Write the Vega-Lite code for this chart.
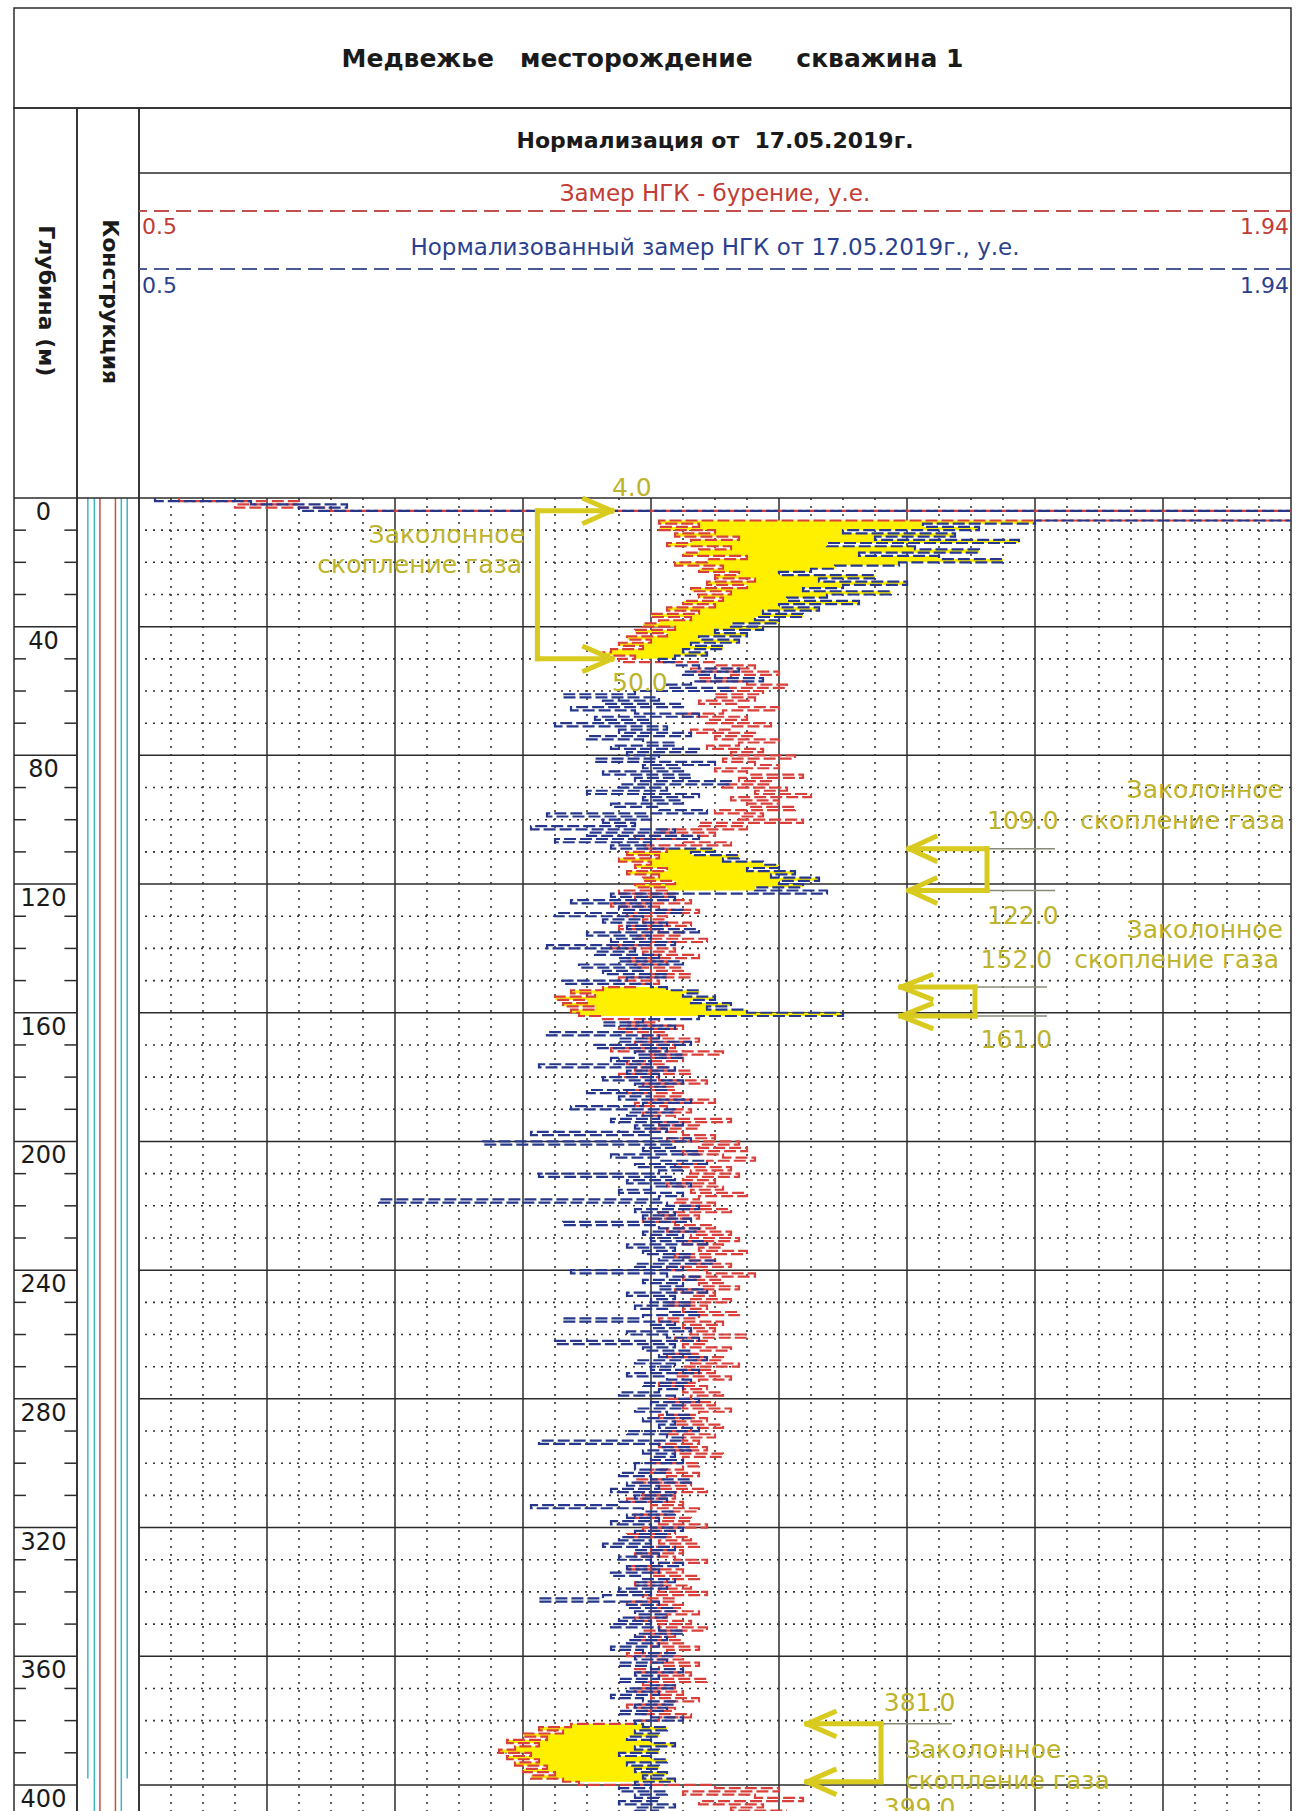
{
"$schema":"https://vega.github.io/schema/vega-lite/v6.json",
"padding":{"left":12,"top":7,"right":0,"bottom":0},
"background":"white",
"spacing":0,
"bounds":"flush",
"config":{"view":{"stroke":"#2b2b2b","strokeWidth":1.5},"font":"DejaVu Sans","text":{"font":"DejaVu Sans"}},
"datasets":{
"hmajor":[{"d":0},{"d":40},{"d":80},{"d":120},{"d":160},{"d":200},{"d":240},{"d":280},{"d":320},{"d":360},{"d":400}],
"hminor":[{"d":10},{"d":20},{"d":30},{"d":50},{"d":60},{"d":70},{"d":90},{"d":100},{"d":110},{"d":130},{"d":140},{"d":150},{"d":170},{"d":180},{"d":190},{"d":210},{"d":220},{"d":230},{"d":250},{"d":260},{"d":270},{"d":290},{"d":300},{"d":310},{"d":330},{"d":340},{"d":350},{"d":370},{"d":380},{"d":390}],
"dticks":[{"d":10,"a":0,"z":0.19},{"d":20,"a":0,"z":0.19},{"d":30,"a":0,"z":0.19},{"d":50,"a":0,"z":0.19},{"d":60,"a":0,"z":0.19},{"d":70,"a":0,"z":0.19},{"d":90,"a":0,"z":0.19},{"d":100,"a":0,"z":0.19},{"d":110,"a":0,"z":0.19},{"d":130,"a":0,"z":0.19},{"d":140,"a":0,"z":0.19},{"d":150,"a":0,"z":0.19},{"d":170,"a":0,"z":0.19},{"d":180,"a":0,"z":0.19},{"d":190,"a":0,"z":0.19},{"d":210,"a":0,"z":0.19},{"d":220,"a":0,"z":0.19},{"d":230,"a":0,"z":0.19},{"d":250,"a":0,"z":0.19},{"d":260,"a":0,"z":0.19},{"d":270,"a":0,"z":0.19},{"d":290,"a":0,"z":0.19},{"d":300,"a":0,"z":0.19},{"d":310,"a":0,"z":0.19},{"d":330,"a":0,"z":0.19},{"d":340,"a":0,"z":0.19},{"d":350,"a":0,"z":0.19},{"d":370,"a":0,"z":0.19},{"d":380,"a":0,"z":0.19},{"d":390,"a":0,"z":0.19},
{"d":10,"a":0.8,"z":1},{"d":20,"a":0.8,"z":1},{"d":30,"a":0.8,"z":1},{"d":50,"a":0.8,"z":1},{"d":60,"a":0.8,"z":1},{"d":70,"a":0.8,"z":1},{"d":90,"a":0.8,"z":1},{"d":100,"a":0.8,"z":1},{"d":110,"a":0.8,"z":1},{"d":130,"a":0.8,"z":1},{"d":140,"a":0.8,"z":1},{"d":150,"a":0.8,"z":1},{"d":170,"a":0.8,"z":1},{"d":180,"a":0.8,"z":1},{"d":190,"a":0.8,"z":1},{"d":210,"a":0.8,"z":1},{"d":220,"a":0.8,"z":1},{"d":230,"a":0.8,"z":1},{"d":250,"a":0.8,"z":1},{"d":260,"a":0.8,"z":1},{"d":270,"a":0.8,"z":1},{"d":290,"a":0.8,"z":1},{"d":300,"a":0.8,"z":1},{"d":310,"a":0.8,"z":1},{"d":330,"a":0.8,"z":1},{"d":340,"a":0.8,"z":1},{"d":350,"a":0.8,"z":1},{"d":370,"a":0.8,"z":1},{"d":380,"a":0.8,"z":1},{"d":390,"a":0.8,"z":1}],
"vmajor":[{"v":0.66,"s":0,"e":408.4},{"v":0.82,"s":0,"e":408.4},{"v":0.98,"s":0,"e":408.4},{"v":1.14,"s":0,"e":408.4},{"v":1.3,"s":0,"e":408.4},{"v":1.46,"s":0,"e":408.4},{"v":1.62,"s":0,"e":408.4},{"v":1.78,"s":0,"e":408.4}],
"vminor":[{"v":0.54,"s":0,"e":408.4},{"v":0.58,"s":0,"e":408.4},{"v":0.62,"s":0,"e":408.4},{"v":0.7,"s":0,"e":408.4},{"v":0.74,"s":0,"e":408.4},{"v":0.78,"s":0,"e":408.4},{"v":0.86,"s":0,"e":408.4},{"v":0.9,"s":0,"e":408.4},{"v":0.94,"s":0,"e":408.4},{"v":1.02,"s":0,"e":408.4},{"v":1.06,"s":0,"e":408.4},{"v":1.1,"s":0,"e":408.4},{"v":1.18,"s":0,"e":408.4},{"v":1.22,"s":0,"e":408.4},{"v":1.26,"s":0,"e":408.4},{"v":1.34,"s":0,"e":408.4},{"v":1.38,"s":0,"e":408.4},{"v":1.42,"s":0,"e":408.4},{"v":1.5,"s":0,"e":408.4},{"v":1.54,"s":0,"e":408.4},{"v":1.58,"s":0,"e":408.4},{"v":1.66,"s":0,"e":408.4},{"v":1.7,"s":0,"e":408.4},{"v":1.74,"s":0,"e":408.4},{"v":1.82,"s":0,"e":408.4},{"v":1.86,"s":0,"e":408.4},{"v":1.9,"s":0,"e":408.4}],
"cons":[{"x":0.175,"s":0,"e":398,"c":"cyan"},{"x":0.28,"s":0,"e":408.4,"c":"cyan"},{"x":0.37,"s":0,"e":408.4,"c":"red"},{"x":0.62,"s":0,"e":408.4,"c":"red"},{"x":0.715,"s":0,"e":408.4,"c":"cyan"},{"x":0.81,"s":0,"e":398,"c":"cyan"}],
"arr":[
{"v1":0.998,"d1":4,"v2":0.998,"d2":50},{"v1":0.998,"d1":4,"v2":1.091,"d2":4},{"v1":0.998,"d1":50,"v2":1.091,"d2":50},
{"v1":1.057,"d1":0.3,"v2":1.091,"d2":4},{"v1":1.057,"d1":7.7,"v2":1.091,"d2":4},{"v1":1.057,"d1":46.3,"v2":1.091,"d2":50},{"v1":1.057,"d1":53.7,"v2":1.091,"d2":50},
{"v1":1.56,"d1":109,"v2":1.56,"d2":122},{"v1":1.4625,"d1":109,"v2":1.56,"d2":109},{"v1":1.4625,"d1":122,"v2":1.56,"d2":122},
{"v1":1.4625,"d1":109,"v2":1.495,"d2":105.3},{"v1":1.4625,"d1":109,"v2":1.495,"d2":112.7},{"v1":1.4625,"d1":122,"v2":1.495,"d2":118.3},{"v1":1.4625,"d1":122,"v2":1.495,"d2":125.7},
{"v1":1.545,"d1":152,"v2":1.545,"d2":161},{"v1":1.4525,"d1":152,"v2":1.545,"d2":152},{"v1":1.4525,"d1":161,"v2":1.545,"d2":161},
{"v1":1.4525,"d1":152,"v2":1.49,"d2":148.3},{"v1":1.4525,"d1":152,"v2":1.49,"d2":155.7},{"v1":1.4525,"d1":161,"v2":1.49,"d2":157.3},{"v1":1.4525,"d1":161,"v2":1.49,"d2":164.7},
{"v1":1.4275,"d1":381,"v2":1.4275,"d2":399},{"v1":1.335,"d1":381,"v2":1.4275,"d2":381},{"v1":1.335,"d1":399,"v2":1.4275,"d2":399},
{"v1":1.335,"d1":381,"v2":1.369,"d2":377.3},{"v1":1.335,"d1":381,"v2":1.369,"d2":384.7},{"v1":1.335,"d1":399,"v2":1.369,"d2":395.3},{"v1":1.335,"d1":399,"v2":1.369,"d2":402.7}],
"grey":[{"v1":1.56,"d1":109,"v2":1.645,"d2":109},{"v1":1.56,"d1":122,"v2":1.645,"d2":122},{"v1":1.545,"d1":152,"v2":1.635,"d2":152},{"v1":1.545,"d1":161,"v2":1.635,"d2":161},{"v1":1.4275,"d1":381,"v2":1.516,"d2":381}],
"annR":[{"t":"Заколонное","v":0.9825,"d":14},{"t":"скопление газа","v":0.979,"d":23.3},{"t":"Заколонное","v":1.93,"d":93.2},{"t":"скопление газа","v":1.9325,"d":102.9},{"t":"Заколонное","v":1.93,"d":136.8},{"t":"скопление газа","v":1.925,"d":146}],
"annL":[{"t":"Заколонное","v":1.4575,"d":391.6},{"t":"скопление газа","v":1.4575,"d":401.3},{"t":"109.0","v":1.56,"d":102.9},{"t":"122.0","v":1.56,"d":132.4},{"t":"152.0","v":1.552,"d":146},{"t":"161.0","v":1.552,"d":171},{"t":"381.0","v":1.431,"d":377},{"t":"399.0","v":1.431,"d":409.6}],
"annC":[{"t":"4.0","v":1.116,"d":-0.6},{"t":"50.0","v":1.126,"d":60}],
"log":[
{"d":0,"r":0.55,"b":0.52},{"d":1,"r":0.7,"b":0.64},{"d":2,"r":0.62,"b":0.76},{"d":3,"r":0.74,"b":0.7},{"d":4,"r":2.4,"b":2.4},{"d":5,"r":2.4,"b":2.4},{"d":6,"r":2.4,"b":2.4},{"d":7,"r":1.15,"b":1.62},{"d":8,"r":1.2,"b":1.48},{"d":9,"r":1.15,"b":1.55},
{"d":10,"r":1.22,"b":1.38},{"d":11,"r":1.17,"b":1.52},{"d":12,"r":1.25,"b":1.42},{"d":13,"r":1.19,"b":1.6},{"d":14,"r":1.16,"b":1.36},{"d":15,"r":1.24,"b":1.47},{"d":16,"r":1.2,"b":1.55},{"d":17,"r":1.18,"b":1.4},{"d":18,"r":1.26,"b":1.5},{"d":19,"r":1.21,"b":1.58},
{"d":20,"r":1.17,"b":1.45},{"d":21,"r":1.23,"b":1.37},{"d":22,"r":1.2,"b":1.34},{"d":23,"r":1.25,"b":1.3},{"d":24,"r":1.22,"b":1.42},{"d":25,"r":1.27,"b":1.35},{"d":26,"r":1.21,"b":1.46},{"d":27,"r":1.26,"b":1.38},{"d":28,"r":1.19,"b":1.33},{"d":29,"r":1.24,"b":1.44},
{"d":30,"r":1.2,"b":1.36},{"d":31,"r":1.23,"b":1.31},{"d":32,"r":1.18,"b":1.4},{"d":33,"r":1.22,"b":1.3},{"d":34,"r":1.16,"b":1.35},{"d":35,"r":1.2,"b":1.28},{"d":36,"r":1.14,"b":1.33},{"d":37,"r":1.19,"b":1.27},{"d":38,"r":1.15,"b":1.3},{"d":39,"r":1.13,"b":1.24},
{"d":40,"r":1.17,"b":1.28},{"d":41,"r":1.12,"b":1.22},{"d":42,"r":1.16,"b":1.26},{"d":43,"r":1.11,"b":1.2},{"d":44,"r":1.14,"b":1.25},{"d":45,"r":1.1,"b":1.19},{"d":46,"r":1.13,"b":1.23},{"d":47,"r":1.09,"b":1.18},{"d":48,"r":1.08,"b":1.21},{"d":49,"r":1.12,"b":1.17},
{"d":50,"r":1.1,"b":1.15},{"d":51,"r":1.22,"b":1.17},{"d":52,"r":1.27,"b":1.2},{"d":53,"r":1.19,"b":1.25},{"d":54,"r":1.3,"b":1.18},{"d":55,"r":1.24,"b":1.22},{"d":56,"r":1.2,"b":1.28},{"d":57,"r":1.26,"b":1.19},{"d":58,"r":1.31,"b":1.16},{"d":59,"r":1.23,"b":1.24},
{"d":60,"r":1.28,"b":1.12},{"d":61,"r":1.22,"b":1.03},{"d":62,"r":1.27,"b":1.15},{"d":63,"r":1.2,"b":1.08},{"d":64,"r":1.25,"b":1.18},{"d":65,"r":1.3,"b":1.04},{"d":66,"r":1.23,"b":1.12},{"d":67,"r":1.18,"b":1.2},{"d":68,"r":1.26,"b":1.07},{"d":69,"r":1.21,"b":1.14},
{"d":70,"r":1.29,"b":1.02},{"d":71,"r":1.24,"b":1.16},{"d":72,"r":1.19,"b":1.1},{"d":73,"r":1.27,"b":1.19},{"d":74,"r":1.22,"b":1.06},{"d":75,"r":1.3,"b":1.13},{"d":76,"r":1.25,"b":1.17},{"d":77,"r":1.21,"b":1.09},{"d":78,"r":1.28,"b":1.2},{"d":79,"r":1.24,"b":1.11},
{"d":80,"r":1.32,"b":1.15},{"d":81,"r":1.23,"b":1.07},{"d":82,"r":1.27,"b":1.22},{"d":83,"r":1.3,"b":1.13},{"d":84,"r":1.22,"b":1.18},{"d":85,"r":1.26,"b":1.08},{"d":86,"r":1.33,"b":1.19},{"d":87,"r":1.25,"b":1.12},{"d":88,"r":1.29,"b":1.24},{"d":89,"r":1.23,"b":1.1},
{"d":90,"r":1.31,"b":1.16},{"d":91,"r":1.27,"b":1.06},{"d":92,"r":1.34,"b":1.2},{"d":93,"r":1.24,"b":1.13},{"d":94,"r":1.3,"b":1.18},{"d":95,"r":1.26,"b":1.09},{"d":96,"r":1.32,"b":1.15},{"d":97,"r":1.22,"b":1.21},{"d":98,"r":1.28,"b":1.01},{"d":99,"r":1.25,"b":1.14},
{"d":100,"r":1.33,"b":1.08},{"d":101,"r":1.2,"b":1.12},{"d":102,"r":1.26,"b":0.99},{"d":103,"r":1.15,"b":1.17},{"d":104,"r":1.22,"b":1.06},{"d":105,"r":1.12,"b":1.2},{"d":106,"r":1.18,"b":1.02},{"d":107,"r":1.24,"b":1.14},{"d":108,"r":1.13,"b":1.09},{"d":109,"r":1.16,"b":1.22},
{"d":110,"r":1.11,"b":1.19},{"d":111,"r":1.15,"b":1.25},{"d":112,"r":1.1,"b":1.23},{"d":113,"r":1.14,"b":1.28},{"d":114,"r":1.12,"b":1.3},{"d":115,"r":1.16,"b":1.26},{"d":116,"r":1.11,"b":1.32},{"d":117,"r":1.15,"b":1.29},{"d":118,"r":1.13,"b":1.35},{"d":119,"r":1.17,"b":1.3},
{"d":120,"r":1.12,"b":1.33},{"d":121,"r":1.16,"b":1.27},{"d":122,"r":1.1,"b":1.36},{"d":123,"r":1.17,"b":1.09},{"d":124,"r":1.12,"b":1.17},{"d":125,"r":1.19,"b":1.04},{"d":126,"r":1.09,"b":1.14},{"d":127,"r":1.15,"b":1.1},{"d":128,"r":1.2,"b":1.18},{"d":129,"r":1.11,"b":1.02},
{"d":130,"r":1.16,"b":1.13},{"d":131,"r":1.13,"b":1.08},{"d":132,"r":1.19,"b":1.16},{"d":133,"r":1.1,"b":1.11},{"d":134,"r":1.15,"b":1.2},{"d":135,"r":1.18,"b":1.06},{"d":136,"r":1.12,"b":1.14},{"d":137,"r":1.21,"b":1.09},{"d":138,"r":1.14,"b":1.17},{"d":139,"r":1.09,"b":1.01},
{"d":140,"r":1.17,"b":1.12},{"d":141,"r":1.13,"b":1.07},{"d":142,"r":1.2,"b":1.15},{"d":143,"r":1.11,"b":1.1},{"d":144,"r":1.16,"b":1.18},{"d":145,"r":1.12,"b":1.05},{"d":146,"r":1.18,"b":1.13},{"d":147,"r":1.14,"b":1.08},{"d":148,"r":1.19,"b":1.16},{"d":149,"r":1.1,"b":1.11},
{"d":150,"r":1.15,"b":1.03},{"d":151,"r":1.12,"b":1.14},{"d":152,"r":1.08,"b":1.16},{"d":153,"r":1.04,"b":1.2},{"d":154,"r":1.07,"b":1.18},{"d":155,"r":1.02,"b":1.22},{"d":156,"r":1.06,"b":1.19},{"d":157,"r":1.03,"b":1.24},{"d":158,"r":1.07,"b":1.21},{"d":159,"r":1.04,"b":1.26},
{"d":160,"r":1.05,"b":1.38},{"d":161,"r":1.08,"b":1.2},{"d":162,"r":1.15,"b":1.13},{"d":163,"r":1.11,"b":1.08},{"d":164,"r":1.18,"b":1.17},{"d":165,"r":1.1,"b":1.11},{"d":166,"r":1.16,"b":1.01},{"d":167,"r":1.13,"b":1.15},{"d":168,"r":1.2,"b":1.1},{"d":169,"r":1.12,"b":1.19},
{"d":170,"r":1.17,"b":1.07},{"d":171,"r":1.09,"b":1.16},{"d":172,"r":1.23,"b":1.12},{"d":173,"r":1.14,"b":1.18},{"d":174,"r":1.18,"b":1.09},{"d":175,"r":1.11,"b":1.14},{"d":176,"r":1.16,"b":1.0},{"d":177,"r":1.12,"b":1.17},{"d":178,"r":1.19,"b":1.11},{"d":179,"r":1.1,"b":1.15},
{"d":180,"r":1.15,"b":1.08},{"d":181,"r":1.21,"b":1.18},{"d":182,"r":1.13,"b":1.12},{"d":183,"r":1.17,"b":1.16},{"d":184,"r":1.11,"b":1.06},{"d":185,"r":1.18,"b":1.14},{"d":186,"r":1.14,"b":1.1},{"d":187,"r":1.22,"b":1.19},{"d":188,"r":1.12,"b":1.13},{"d":189,"r":1.16,"b":1.04},
{"d":190,"r":1.19,"b":1.17},{"d":191,"r":1.13,"b":1.11},{"d":192,"r":1.17,"b":1.15},{"d":193,"r":1.24,"b":1.09},{"d":194,"r":1.15,"b":1.18},{"d":195,"r":1.2,"b":1.12},{"d":196,"r":1.14,"b":1.16},{"d":197,"r":1.18,"b":0.99},{"d":198,"r":1.22,"b":1.14},{"d":199,"r":1.16,"b":1.19},
{"d":200,"r":1.25,"b":0.93},{"d":201,"r":1.2,"b":1.17},{"d":202,"r":1.26,"b":1.13},{"d":203,"r":1.18,"b":1.2},{"d":204,"r":1.23,"b":1.09},{"d":205,"r":1.27,"b":1.15},{"d":206,"r":1.21,"b":1.21},{"d":207,"r":1.17,"b":1.12},{"d":208,"r":1.24,"b":1.18},{"d":209,"r":1.19,"b":1.15},
{"d":210,"r":1.25,"b":1.0},{"d":211,"r":1.18,"b":1.17},{"d":212,"r":1.22,"b":1.11},{"d":213,"r":1.16,"b":1.19},{"d":214,"r":1.23,"b":1.14},{"d":215,"r":1.19,"b":1.1},{"d":216,"r":1.26,"b":1.18},{"d":217,"r":1.2,"b":1.15},{"d":218,"r":1.17,"b":0.8},{"d":219,"r":1.22,"b":1.16},
{"d":220,"r":1.18,"b":1.2},{"d":221,"r":1.24,"b":1.12},{"d":222,"r":1.15,"b":1.17},{"d":223,"r":1.2,"b":1.13},{"d":224,"r":1.13,"b":1.19},{"d":225,"r":1.17,"b":1.03},{"d":226,"r":1.22,"b":1.15},{"d":227,"r":1.16,"b":1.2},{"d":228,"r":1.24,"b":1.13},{"d":229,"r":1.19,"b":1.18},
{"d":230,"r":1.25,"b":1.14},{"d":231,"r":1.18,"b":1.21},{"d":232,"r":1.23,"b":1.11},{"d":233,"r":1.2,"b":1.17},{"d":234,"r":1.26,"b":1.13},{"d":235,"r":1.17,"b":1.19},{"d":236,"r":1.22,"b":1.15},{"d":237,"r":1.19,"b":1.22},{"d":238,"r":1.24,"b":1.12},{"d":239,"r":1.16,"b":1.18},
{"d":240,"r":1.21,"b":1.04},{"d":241,"r":1.27,"b":1.16},{"d":242,"r":1.18,"b":1.2},{"d":243,"r":1.23,"b":1.13},{"d":244,"r":1.2,"b":1.18},{"d":245,"r":1.25,"b":1.15},{"d":246,"r":1.17,"b":1.21},{"d":247,"r":1.22,"b":1.11},{"d":248,"r":1.19,"b":1.17},{"d":249,"r":1.24,"b":1.14},
{"d":250,"r":1.16,"b":1.19},{"d":251,"r":1.21,"b":1.12},{"d":252,"r":1.18,"b":1.16},{"d":253,"r":1.25,"b":1.2},{"d":254,"r":1.2,"b":1.13},{"d":255,"r":1.15,"b":1.03},{"d":256,"r":1.23,"b":1.17},{"d":257,"r":1.18,"b":1.14},{"d":258,"r":1.22,"b":1.19},{"d":259,"r":1.19,"b":1.11},
{"d":260,"r":1.26,"b":1.16},{"d":261,"r":1.17,"b":1.2},{"d":262,"r":1.21,"b":1.02},{"d":263,"r":1.18,"b":1.17},{"d":264,"r":1.24,"b":1.13},{"d":265,"r":1.2,"b":1.19},{"d":266,"r":1.16,"b":1.15},{"d":267,"r":1.23,"b":1.21},{"d":268,"r":1.19,"b":1.12},{"d":269,"r":1.25,"b":1.17},
{"d":270,"r":1.18,"b":1.14},{"d":271,"r":1.22,"b":1.2},{"d":272,"r":1.17,"b":1.11},{"d":273,"r":1.24,"b":1.16},{"d":274,"r":1.2,"b":1.19},{"d":275,"r":1.15,"b":1.13},{"d":276,"r":1.21,"b":1.18},{"d":277,"r":1.18,"b":1.15},{"d":278,"r":1.23,"b":1.1},{"d":279,"r":1.19,"b":1.17},
{"d":280,"r":1.16,"b":1.2},{"d":281,"r":1.22,"b":1.14},{"d":282,"r":1.18,"b":1.18},{"d":283,"r":1.24,"b":1.12},{"d":284,"r":1.2,"b":1.16},{"d":285,"r":1.15,"b":1.19},{"d":286,"r":1.21,"b":1.13},{"d":287,"r":1.17,"b":1.17},{"d":288,"r":1.23,"b":1.15},{"d":289,"r":1.19,"b":1.2},
{"d":290,"r":1.16,"b":1.11},{"d":291,"r":1.22,"b":1.16},{"d":292,"r":1.18,"b":1.18},{"d":293,"r":1.2,"b":1.0},{"d":294,"r":1.15,"b":1.15},{"d":295,"r":1.21,"b":1.19},{"d":296,"r":1.17,"b":1.13},{"d":297,"r":1.23,"b":1.17},{"d":298,"r":1.18,"b":1.14},{"d":299,"r":1.14,"b":1.18},
{"d":300,"r":1.2,"b":1.12},{"d":301,"r":1.18,"b":1.12},{"d":302,"r":1.14,"b":1.16},{"d":303,"r":1.2,"b":1.1},{"d":304,"r":1.16,"b":1.14},{"d":305,"r":1.12,"b":1.19},{"d":306,"r":1.19,"b":1.11},{"d":307,"r":1.15,"b":1.15},{"d":308,"r":1.21,"b":1.09},{"d":309,"r":1.13,"b":1.17},
{"d":310,"r":1.17,"b":1.12},{"d":311,"r":1.11,"b":1.16},{"d":312,"r":1.18,"b":1.1},{"d":313,"r":1.14,"b":0.99},{"d":314,"r":1.2,"b":1.13},{"d":315,"r":1.16,"b":1.17},{"d":316,"r":1.12,"b":1.11},{"d":317,"r":1.19,"b":1.15},{"d":318,"r":1.15,"b":1.09},{"d":319,"r":1.21,"b":1.14},
{"d":320,"r":1.13,"b":1.18},{"d":321,"r":1.17,"b":1.12},{"d":322,"r":1.11,"b":1.16},{"d":323,"r":1.19,"b":1.1},{"d":324,"r":1.15,"b":1.14},{"d":325,"r":1.2,"b":1.08},{"d":326,"r":1.14,"b":1.17},{"d":327,"r":1.18,"b":1.12},{"d":328,"r":1.12,"b":1.15},{"d":329,"r":1.17,"b":1.1},
{"d":330,"r":1.21,"b":1.14},{"d":331,"r":1.15,"b":1.18},{"d":332,"r":1.11,"b":1.11},{"d":333,"r":1.18,"b":1.15},{"d":334,"r":1.14,"b":1.09},{"d":335,"r":1.2,"b":1.13},{"d":336,"r":1.16,"b":1.17},{"d":337,"r":1.12,"b":1.12},{"d":338,"r":1.19,"b":1.16},{"d":339,"r":1.15,"b":1.1},
{"d":340,"r":1.21,"b":1.14},{"d":341,"r":1.13,"b":1.08},{"d":342,"r":1.17,"b":1.0},{"d":343,"r":1.11,"b":1.15},{"d":344,"r":1.18,"b":1.11},{"d":345,"r":1.14,"b":1.17},{"d":346,"r":1.2,"b":1.12},{"d":347,"r":1.16,"b":1.16},{"d":348,"r":1.12,"b":1.1},{"d":349,"r":1.19,"b":1.14},
{"d":350,"r":1.15,"b":1.09},{"d":351,"r":1.21,"b":1.15},{"d":352,"r":1.13,"b":1.18},{"d":353,"r":1.17,"b":1.12},{"d":354,"r":1.12,"b":1.16},{"d":355,"r":1.18,"b":1.11},{"d":356,"r":1.14,"b":1.15},{"d":357,"r":1.2,"b":1.09},{"d":358,"r":1.16,"b":1.13},{"d":359,"r":1.11,"b":1.17},
{"d":360,"r":1.18,"b":1.12},{"d":361,"r":1.14,"b":1.16},{"d":362,"r":1.2,"b":1.1},{"d":363,"r":1.15,"b":1.14},{"d":364,"r":1.12,"b":1.18},{"d":365,"r":1.19,"b":1.12},{"d":366,"r":1.15,"b":1.15},{"d":367,"r":1.21,"b":1.1},{"d":368,"r":1.13,"b":1.14},{"d":369,"r":1.17,"b":1.17},
{"d":370,"r":1.12,"b":1.11},{"d":371,"r":1.18,"b":1.15},{"d":372,"r":1.14,"b":1.09},{"d":373,"r":1.2,"b":1.13},{"d":374,"r":1.16,"b":1.17},{"d":375,"r":1.11,"b":1.12},{"d":376,"r":1.17,"b":1.16},{"d":377,"r":1.13,"b":1.1},{"d":378,"r":1.19,"b":1.14},{"d":379,"r":1.15,"b":1.18},
{"d":380,"r":1.12,"b":1.12},{"d":381,"r":1.04,"b":1.13},{"d":382,"r":1.0,"b":1.16},{"d":383,"r":1.03,"b":1.12},{"d":384,"r":0.98,"b":1.15},{"d":385,"r":1.01,"b":1.11},{"d":386,"r":0.96,"b":1.14},{"d":387,"r":1.0,"b":1.17},{"d":388,"r":0.97,"b":1.12},{"d":389,"r":0.95,"b":1.15},
{"d":390,"r":0.99,"b":1.1},{"d":391,"r":0.96,"b":1.14},{"d":392,"r":1.0,"b":1.16},{"d":393,"r":0.97,"b":1.11},{"d":394,"r":1.01,"b":1.15},{"d":395,"r":0.98,"b":1.12},{"d":396,"r":1.02,"b":1.16},{"d":397,"r":0.99,"b":1.13},{"d":398,"r":1.03,"b":1.17},{"d":399,"r":1.05,"b":1.12},
{"d":400,"r":1.22,"b":1.14},{"d":401,"r":1.3,"b":1.1},{"d":402,"r":1.18,"b":1.16},{"d":403,"r":1.27,"b":1.12},{"d":404,"r":1.33,"b":1.15},{"d":405,"r":1.2,"b":1.1},{"d":406,"r":1.28,"b":1.17},{"d":407,"r":1.24,"b":1.12},{"d":408,"r":1.31,"b":1.15}
]
},
"vconcat":[
{"width":1277,"height":100,
 "data":{"values":[{"t":"Медвежье\u00a0\u00a0\u00a0месторождение\u00a0\u00a0\u00a0\u00a0\u00a0скважина 1","x":0.5,"y":0.49}]},
 "mark":{"type":"text","fontSize":25,"fontWeight":"bold","font":"DejaVu Sans","color":"#1a1a1a","baseline":"middle","align":"center"},
 "encoding":{"text":{"field":"t","type":"nominal"},
  "x":{"field":"x","type":"quantitative","scale":{"domain":[0,1],"nice":false,"zero":false},"axis":null},
  "y":{"field":"y","type":"quantitative","scale":{"domain":[0,1],"nice":false,"zero":false},"axis":null}}},
{"hconcat":[
 {"width":63,"height":1704,
  "layer":[
   {"data":{"name":"hmajor"},"mark":{"type":"rule","color":"#2b2b2b","strokeWidth":1.5},
    "encoding":{"y":{"field":"d","type":"quantitative","scale":{"domain":[-121.2,408.4],"nice":false,"zero":false,"reverse":true},"axis":null}}},
   {"data":{"name":"dticks"},"mark":{"type":"rule","color":"#2b2b2b","strokeWidth":1.5},
    "encoding":{"y":{"field":"d","type":"quantitative","axis":null},
     "x":{"field":"a","type":"quantitative","scale":{"domain":[0,1],"nice":false,"zero":false},"axis":null},"x2":{"field":"z"}}},
   {"data":{"name":"hmajor"},"mark":{"type":"text","fontSize":24,"dy":15,"dx":-2,"baseline":"middle","align":"center","color":"#1a1a1a"},
    "encoding":{"y":{"field":"d","type":"quantitative","axis":null},"text":{"field":"d","type":"quantitative"}}},
   {"data":{"values":[{"t":"Глубина (м)","d":-61}]},"mark":{"type":"text","angle":90,"fontSize":22,"fontWeight":"bold","baseline":"middle","align":"center","color":"#1a1a1a","dx":-1},
    "encoding":{"y":{"field":"d","type":"quantitative","axis":null},"text":{"field":"t","type":"nominal"}}}
  ]},
 {"width":62,"height":1704,
  "layer":[
   {"data":{"name":"cons"},"mark":{"type":"rule","strokeWidth":1.5},
    "encoding":{"x":{"field":"x","type":"quantitative","scale":{"domain":[0,1],"nice":false,"zero":false},"axis":null},
     "y":{"field":"s","type":"quantitative","scale":{"domain":[-121.2,408.4],"nice":false,"zero":false,"reverse":true},"axis":null},
     "y2":{"field":"e"},
     "color":{"field":"c","type":"nominal","scale":{"domain":["cyan","red"],"range":["#3db5c5","#c8513d"]},"legend":null}}},
   {"data":{"values":[{"d":0}]},"mark":{"type":"rule","color":"#2b2b2b","strokeWidth":1.5},
    "encoding":{"y":{"field":"d","type":"quantitative","axis":null}}},
   {"data":{"values":[{"t":"Конструкция","d":-61}]},"mark":{"type":"text","angle":90,"fontSize":22,"fontWeight":"bold","baseline":"middle","align":"center","color":"#1a1a1a","dy":-2},
    "encoding":{"y":{"field":"d","type":"quantitative","axis":null},"text":{"field":"t","type":"nominal"}}}
  ]},
 {"width":1152,"height":1704,
  "layer":[
   {"data":{"name":"vminor"},"mark":{"type":"rule","color":"#333333","strokeWidth":1.6,"strokeDash":[2,6]},
    "encoding":{"x":{"field":"v","type":"quantitative","scale":{"domain":[0.5,1.94],"nice":false,"zero":false},"axis":null},
     "y":{"field":"s","type":"quantitative","scale":{"domain":[-121.2,408.4],"nice":false,"zero":false,"reverse":true},"axis":null},"y2":{"field":"e"}}},
   {"data":{"name":"vmajor"},"mark":{"type":"rule","color":"#2b2b2b","strokeWidth":1.5},
    "encoding":{"x":{"field":"v","type":"quantitative","axis":null},
     "y":{"field":"s","type":"quantitative","axis":null},"y2":{"field":"e"}}},
   {"data":{"name":"hminor"},"mark":{"type":"rule","color":"#333333","strokeWidth":1.6,"strokeDash":[2,6]},
    "encoding":{"y":{"field":"d","type":"quantitative","axis":null}}},
   {"data":{"name":"hmajor"},"mark":{"type":"rule","color":"#2b2b2b","strokeWidth":1.5},
    "encoding":{"y":{"field":"d","type":"quantitative","axis":null}}},
   {"data":{"values":[{"d":-101}]},"mark":{"type":"rule","color":"#2b2b2b","strokeWidth":1.5},
    "encoding":{"y":{"field":"d","type":"quantitative","axis":null}}},
   {"data":{"values":[{"d":-89.2}]},"mark":{"type":"rule","color":"#c0504d","strokeWidth":2,"strokeDash":[15,7]},
    "encoding":{"y":{"field":"d","type":"quantitative","axis":null}}},
   {"data":{"values":[{"d":-71.2}]},"mark":{"type":"rule","color":"#4a5a94","strokeWidth":2,"strokeDash":[15,7]},
    "encoding":{"y":{"field":"d","type":"quantitative","axis":null}}},
   {"data":{"name":"log"},"transform":[{"filter":{"field":"d","range":[7,50]}}],
    "mark":{"type":"area","orient":"horizontal","interpolate":"step-before","color":"#fff000","clip":true},
    "encoding":{"y":{"field":"d","type":"quantitative","axis":null},"x":{"field":"r","type":"quantitative","axis":null},"x2":{"field":"b"}}},
   {"data":{"name":"log"},"transform":[{"filter":{"field":"d","range":[109,122]}}],
    "mark":{"type":"area","orient":"horizontal","interpolate":"step-before","color":"#fff000","clip":true},
    "encoding":{"y":{"field":"d","type":"quantitative","axis":null},"x":{"field":"r","type":"quantitative","axis":null},"x2":{"field":"b"}}},
   {"data":{"name":"log"},"transform":[{"filter":{"field":"d","range":[152,161]}}],
    "mark":{"type":"area","orient":"horizontal","interpolate":"step-before","color":"#fff000","clip":true},
    "encoding":{"y":{"field":"d","type":"quantitative","axis":null},"x":{"field":"r","type":"quantitative","axis":null},"x2":{"field":"b"}}},
   {"data":{"name":"log"},"transform":[{"filter":{"field":"d","range":[381,399]}}],
    "mark":{"type":"area","orient":"horizontal","interpolate":"step-before","color":"#fff000","clip":true},
    "encoding":{"y":{"field":"d","type":"quantitative","axis":null},"x":{"field":"r","type":"quantitative","axis":null},"x2":{"field":"b"}}},
   {"data":{"name":"log"},"mark":{"type":"line","interpolate":"step-before","color":"#d8413b","strokeWidth":2.2,"strokeDash":[12,4],"clip":true},
    "encoding":{"y":{"field":"d","type":"quantitative","axis":null},"x":{"field":"r","type":"quantitative","axis":null},"order":{"field":"d","type":"quantitative"}}},
   {"data":{"name":"log"},"mark":{"type":"line","interpolate":"step-before","color":"#27388c","strokeWidth":2.2,"strokeDash":[12,4],"clip":true},
    "encoding":{"y":{"field":"d","type":"quantitative","axis":null},"x":{"field":"b","type":"quantitative","axis":null},"order":{"field":"d","type":"quantitative"}}},
   {"data":{"name":"grey"},"mark":{"type":"rule","color":"#8a8a7a","strokeWidth":1.5},
    "encoding":{"x":{"field":"v1","type":"quantitative","axis":null},"x2":{"field":"v2"},"y":{"field":"d1","type":"quantitative","axis":null},"y2":{"field":"d2"}}},
   {"data":{"name":"arr"},"mark":{"type":"rule","color":"#d8ca1e","strokeWidth":5,"strokeCap":"square"},
    "encoding":{"x":{"field":"v1","type":"quantitative","axis":null},"x2":{"field":"v2"},"y":{"field":"d1","type":"quantitative","axis":null},"y2":{"field":"d2"}}},
   {"data":{"values":[{"t":"Нормализация от\u00a0\u00a017.05.2019г.","v":1.22,"d":-111}]},
    "mark":{"type":"text","fontSize":22,"fontWeight":"bold","baseline":"middle","align":"center","color":"#1a1a1a"},
    "encoding":{"x":{"field":"v","type":"quantitative","axis":null},"y":{"field":"d","type":"quantitative","axis":null},"text":{"field":"t","type":"nominal"}}},
   {"data":{"values":[{"t":"Замер НГК - бурение, у.е.","v":1.22,"d":-94.5}]},
    "mark":{"type":"text","fontSize":23,"baseline":"middle","align":"center","color":"#c23b35"},
    "encoding":{"x":{"field":"v","type":"quantitative","axis":null},"y":{"field":"d","type":"quantitative","axis":null},"text":{"field":"t","type":"nominal"}}},
   {"data":{"values":[{"t":"Нормализованный замер НГК от 17.05.2019г., у.е.","v":1.22,"d":-77.7}]},
    "mark":{"type":"text","fontSize":23,"baseline":"middle","align":"center","color":"#2b3f8e"},
    "encoding":{"x":{"field":"v","type":"quantitative","axis":null},"y":{"field":"d","type":"quantitative","axis":null},"text":{"field":"t","type":"nominal"}}},
   {"data":{"values":[{"t":"0.5","v":0.5,"d":-84.2}]},
    "mark":{"type":"text","fontSize":22,"baseline":"middle","align":"left","dx":3,"color":"#c23b35"},
    "encoding":{"x":{"field":"v","type":"quantitative","axis":null},"y":{"field":"d","type":"quantitative","axis":null},"text":{"field":"t","type":"nominal"}}},
   {"data":{"values":[{"t":"0.5","v":0.5,"d":-65.9}]},
    "mark":{"type":"text","fontSize":22,"baseline":"middle","align":"left","dx":3,"color":"#2b3f8e"},
    "encoding":{"x":{"field":"v","type":"quantitative","axis":null},"y":{"field":"d","type":"quantitative","axis":null},"text":{"field":"t","type":"nominal"}}},
   {"data":{"values":[{"t":"1.94","v":1.94,"d":-84.2}]},
    "mark":{"type":"text","fontSize":22,"baseline":"middle","align":"right","dx":-2,"color":"#c23b35"},
    "encoding":{"x":{"field":"v","type":"quantitative","axis":null},"y":{"field":"d","type":"quantitative","axis":null},"text":{"field":"t","type":"nominal"}}},
   {"data":{"values":[{"t":"1.94","v":1.94,"d":-65.9}]},
    "mark":{"type":"text","fontSize":22,"baseline":"middle","align":"right","dx":-2,"color":"#2b3f8e"},
    "encoding":{"x":{"field":"v","type":"quantitative","axis":null},"y":{"field":"d","type":"quantitative","axis":null},"text":{"field":"t","type":"nominal"}}},
   {"data":{"name":"annR"},"mark":{"type":"text","fontSize":25,"baseline":"alphabetic","align":"right","color":"#bdb42c"},
    "encoding":{"x":{"field":"v","type":"quantitative","axis":null},"y":{"field":"d","type":"quantitative","axis":null},"text":{"field":"t","type":"nominal"}}},
   {"data":{"name":"annL"},"mark":{"type":"text","fontSize":25,"baseline":"alphabetic","align":"left","color":"#bdb42c","clip":true},
    "encoding":{"x":{"field":"v","type":"quantitative","axis":null},"y":{"field":"d","type":"quantitative","axis":null},"text":{"field":"t","type":"nominal"}}},
   {"data":{"name":"annC"},"mark":{"type":"text","fontSize":25,"baseline":"alphabetic","align":"center","color":"#bdb42c"},
    "encoding":{"x":{"field":"v","type":"quantitative","axis":null},"y":{"field":"d","type":"quantitative","axis":null},"text":{"field":"t","type":"nominal"}}}
  ]}
 ],"spacing":0,"bounds":"flush"}
]}
